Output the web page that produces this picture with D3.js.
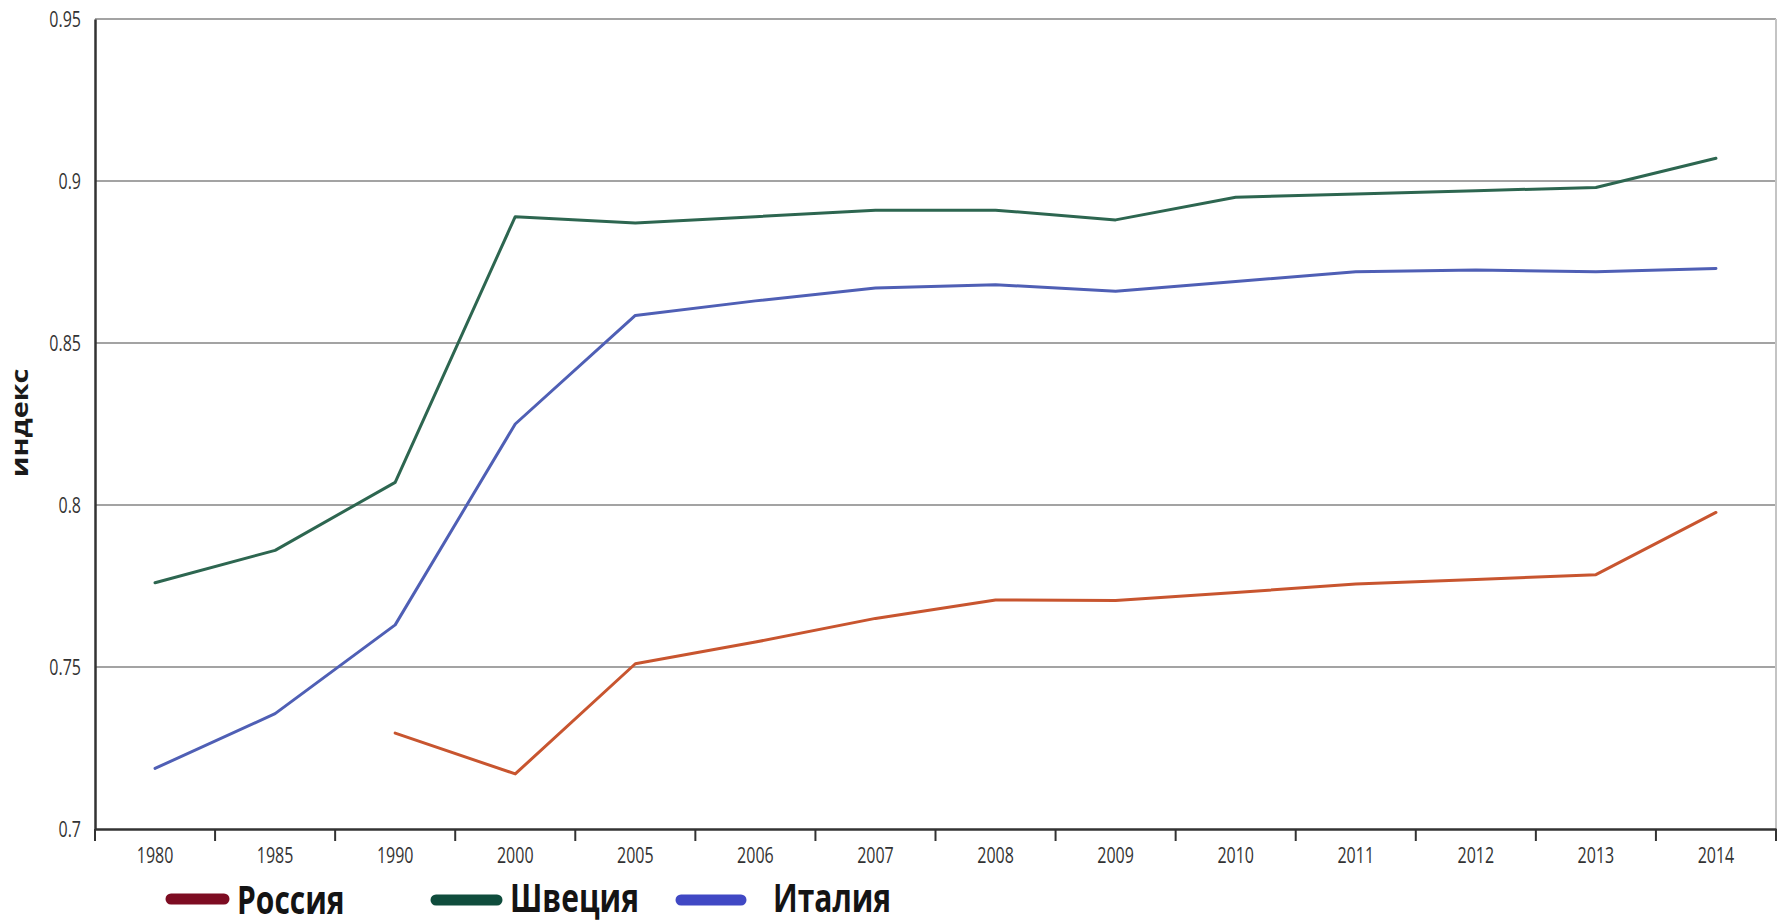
<!DOCTYPE html>
<html>
<head>
<meta charset="utf-8">
<script src="https://cdn.jsdelivr.net/npm/d3@7"></script>
<style>
  html, body { margin: 0; padding: 0; background: #ffffff; }
  svg { display: block; }
  text { font-family: "Open Sans", "Noto Sans", sans-serif; }
</style>
</head>
<body>
<svg id="chart" width="1785" height="924"></svg>
<script>
// ---- data ----
const years = ["1980","1985","1990","2000","2005","2006","2007","2008","2009","2010","2011","2012","2013","2014"];
const russia = [null, null, 0.7296, 0.717, 0.751, 0.7577, 0.765, 0.7707, 0.7705, 0.773, 0.7756, 0.777, 0.7785, 0.7977];
const sweden = [0.776, 0.786, 0.807, 0.889, 0.887, 0.889, 0.891, 0.891, 0.888, 0.895, 0.896, 0.897, 0.898, 0.907];
const italy  = [0.7187, 0.7356, 0.763, 0.825, 0.8585, 0.863, 0.867, 0.868, 0.866, 0.869, 0.872, 0.8725, 0.872, 0.873];
const yTicks = [0.7, 0.75, 0.8, 0.85, 0.9, 0.95];
const seriesNames = ["Россия", "Швеция", "Италия"];
const yTitle = "индекс";

const lineColors = ["#c8552f", "#2d6650", "#4f5fb5"];
const legendColors = ["#7d0c22", "#0f4c3c", "#4048c4"];

// ---- layout ----
const svg = d3.select("#chart");
const mLeft = 95, mRight = 1776, mTop = 19, mBottom = 829;

const x = d3.scaleBand().domain(years).range([mLeft, mRight]).padding(0);
const y = d3.scaleLinear().domain([0.7, 0.95]).range([mBottom, mTop]);

// grid lines
svg.append("g").selectAll("line")
  .data(yTicks.filter(d => d > 0.7))
  .join("line")
  .attr("x1", mLeft).attr("x2", mRight)
  .attr("y1", d => y(d)).attr("y2", d => y(d))
  .attr("stroke", "#a3a3a3").attr("stroke-width", 2);

// right border
svg.append("line")
  .attr("x1", mRight).attr("x2", mRight)
  .attr("y1", y(0.95)).attr("y2", y(0.7))
  .attr("stroke", "#c4c4c4").attr("stroke-width", 2);

// y axis
const yAxis = svg.append("g")
  .attr("transform", `translate(${mLeft},0)`)
  .call(d3.axisLeft(y).tickValues(yTicks).tickSize(0).tickFormat(d => String(+d.toFixed(2))));
yAxis.select(".domain").attr("stroke", "#333").attr("stroke-width", 2.5);
yAxis.selectAll("text")
  .attr("x", null).attr("dy", "0.36em")
  .attr("transform", "translate(-14,0) scale(1,1.35)")
  .attr("font-size", 16).attr("fill", "#333")
  .attr("font-family", "'Open Sans', sans-serif");

// x axis
const xAxis = svg.append("g")
  .attr("transform", `translate(0,${mBottom})`)
  .call(d3.axisBottom(x).tickSize(0));
xAxis.select(".domain").attr("stroke", "#333").attr("stroke-width", 2.5);
xAxis.selectAll("text")
  .attr("y", null).attr("dy", null)
  .attr("transform", "translate(0,34) scale(1,1.35)")
  .attr("font-size", 16).attr("fill", "#333")
  .attr("font-family", "'Open Sans', sans-serif");
// boundary ticks
const bounds = years.map(d => x(d)).concat([x(years[years.length - 1]) + x.bandwidth()]);
xAxis.append("g").selectAll("line")
  .data(bounds)
  .join("line")
  .attr("x1", d => d).attr("x2", d => d)
  .attr("y1", 0).attr("y2", 12)
  .attr("stroke", "#333").attr("stroke-width", 2);

// y title
svg.append("text")
  .attr("transform", "translate(28,423) rotate(-90) scale(1.2,1)")
  .attr("text-anchor", "middle")
  .attr("font-size", 24).attr("font-weight", "bold")
  .attr("fill", "#1a1a1a")
  .text(yTitle);

// lines
const line = d3.line()
  .defined(d => d.v != null)
  .x(d => x(d.year) + x.bandwidth() / 2)
  .y(d => y(d.v));

[russia, sweden, italy].forEach((vals, i) => {
  const data = years.map((yr, j) => ({ year: yr, v: vals[j] }));
  svg.append("path")
    .datum(data)
    .attr("d", line)
    .attr("fill", "none")
    .attr("stroke", lineColors[i])
    .attr("stroke-width", 3)
    .attr("stroke-linejoin", "round")
    .attr("stroke-linecap", "round");
});

// legend
const legendItems = [
  { sx1: 171, sx2: 224, sy: 899, tx: 237, ty: 914 },
  { sx1: 436, sx2: 497, sy: 900, tx: 510, ty: 912 },
  { sx1: 681, sx2: 741, sy: 900, tx: 773, ty: 912 }
];
legendItems.forEach((p, i) => {
  svg.append("line")
    .attr("x1", p.sx1).attr("x2", p.sx2)
    .attr("y1", p.sy).attr("y2", p.sy)
    .attr("stroke", legendColors[i])
    .attr("stroke-width", 11)
    .attr("stroke-linecap", "round");
  svg.append("text")
    .attr("transform", `translate(${p.tx},${p.ty}) scale(1,1.3)`)
    .attr("font-size", 30).attr("font-weight", "bold")
    .attr("fill", "#141414")
    .text(seriesNames[i]);
});
</script>
</body>
</html>
